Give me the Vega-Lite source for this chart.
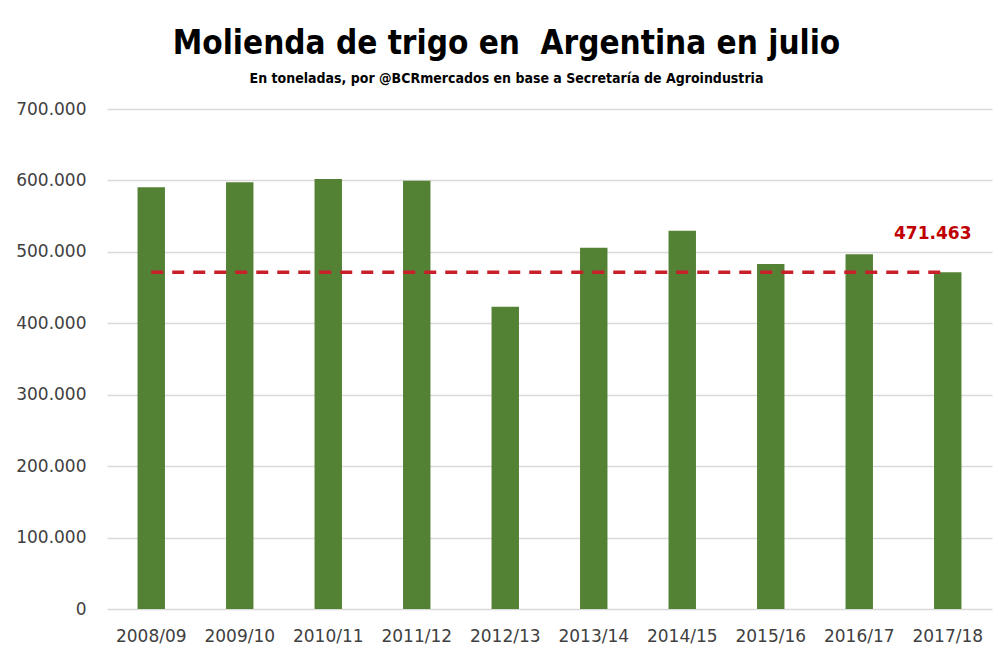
{
  "$schema": "https://vega.github.io/schema/vega-lite/v6.json",
  "width": 885,
  "height": 500,
  "autosize": "none",
  "padding": {"left": 107, "top": 109, "right": 3, "bottom": 46},
  "background": "white",
  "config": {
    "locale": {"number": {"decimal": ",", "thousands": ".", "grouping": [3], "currency": ["$", ""]}},
    "view": {"stroke": null}
  },
  "title": {
    "text": "Molienda de trigo en\u00a0 Argentina en julio",
    "subtitle": "En toneladas, por @BCRmercados en base a Secretaría de Agroindustria",
    "font": "DejaVu Sans Condensed, Liberation Sans Narrow, Roboto, sans-serif",
    "fontSize": 33,
    "fontWeight": "bold",
    "color": "#000000",
    "subtitleFont": "DejaVu Sans Condensed, Liberation Sans Narrow, Roboto, sans-serif",
    "subtitleFontSize": 14,
    "subtitleFontWeight": "bold",
    "subtitleColor": "#000000",
    "subtitlePadding": 11,
    "anchor": "middle",
    "dx": -43,
    "offset": 14
  },
  "data": {
    "values": [
      {"campana": "2008/09", "toneladas": 590400},
      {"campana": "2009/10", "toneladas": 597400},
      {"campana": "2010/11", "toneladas": 602000},
      {"campana": "2011/12", "toneladas": 599600},
      {"campana": "2012/13", "toneladas": 423200},
      {"campana": "2013/14", "toneladas": 505800},
      {"campana": "2014/15", "toneladas": 529600},
      {"campana": "2015/16", "toneladas": 483000},
      {"campana": "2016/17", "toneladas": 496600},
      {"campana": "2017/18", "toneladas": 471463}
    ]
  },
  "encoding": {
    "x": {
      "field": "campana",
      "type": "nominal",
      "sort": null,
      "scale": {"paddingInner": 0.69, "paddingOuter": 0.345},
      "axis": {
        "title": null,
        "labelAngle": 0,
        "labelFont": "DejaVu Sans",
        "labelFontSize": 17,
        "labelColor": "#404040",
        "labelPadding": 19,
        "ticks": false,
        "domain": false,
        "grid": false
      }
    }
  },
  "layer": [
    {
      "mark": {"type": "bar", "color": "#548235"},
      "encoding": {
        "y": {
          "field": "toneladas",
          "type": "quantitative",
          "scale": {"domain": [0, 700000], "nice": false},
          "axis": {
            "title": null,
            "values": [0, 100000, 200000, 300000, 400000, 500000, 600000, 700000],
            "format": ",d",
            "labelFont": "DejaVu Sans",
            "labelFontSize": 17,
            "labelColor": "#404040",
            "labelPadding": 21,
            "ticks": false,
            "domain": false,
            "grid": true,
            "gridColor": "#d9d9d9",
            "gridWidth": 1.5
          }
        }
      }
    },
    {
      "mark": {"type": "line", "color": "#C8202A", "strokeWidth": 3.5, "strokeDash": [12, 9]},
      "encoding": {
        "y": {"datum": 471463}
      }
    },
    {
      "transform": [{"filter": "datum.campana === '2017/18'"}],
      "mark": {
        "type": "text",
        "color": "#C00000",
        "font": "DejaVu Sans",
        "fontSize": 17,
        "fontWeight": "bold",
        "align": "center",
        "baseline": "alphabetic",
        "dx": -15,
        "dy": -33
      },
      "encoding": {
        "y": {"field": "toneladas", "type": "quantitative"},
        "text": {"field": "toneladas", "type": "quantitative", "format": ",d"}
      }
    }
  ]
}
